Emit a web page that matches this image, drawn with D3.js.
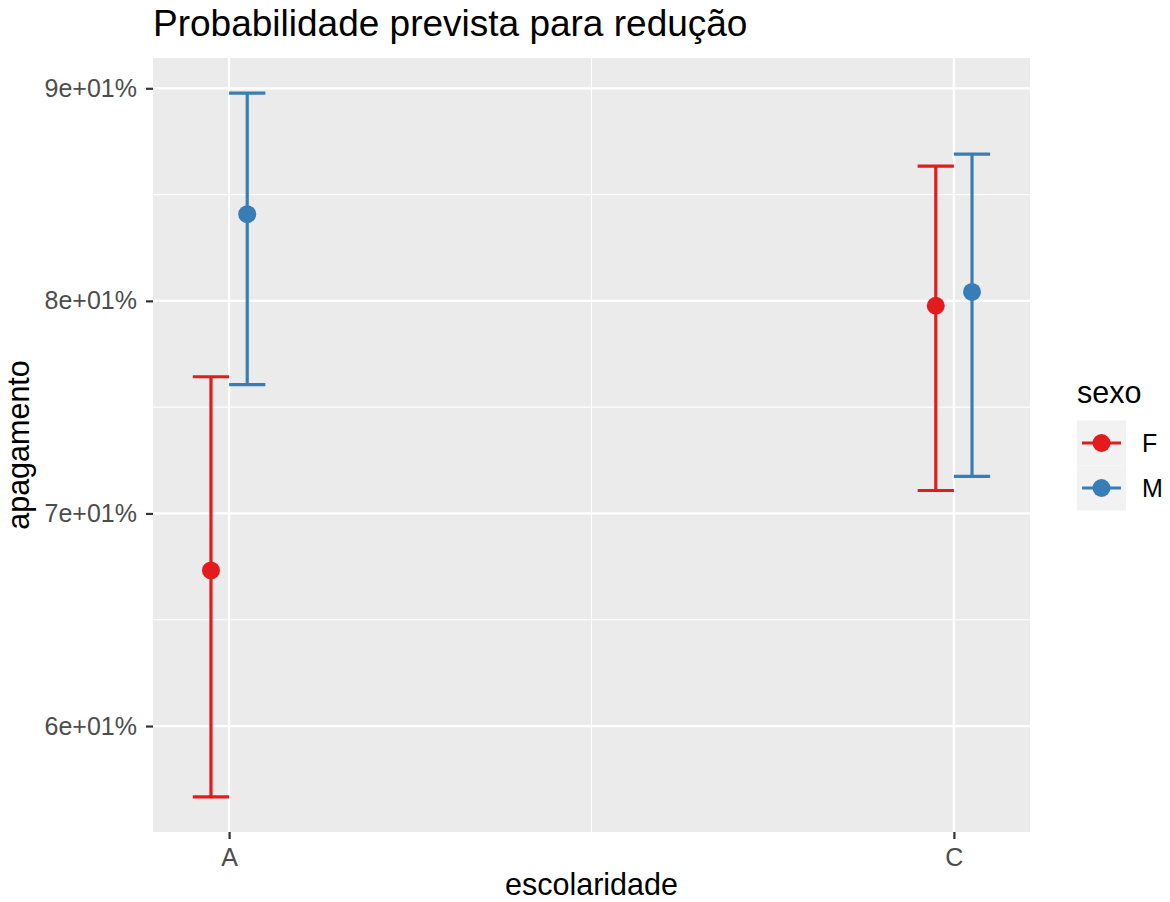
<!DOCTYPE html>
<html>
<head>
<meta charset="utf-8">
<script src="https://cdn.jsdelivr.net/npm/d3@7"></script>
<style>
body { margin: 0; background: #fff; }
text { font-family: "Liberation Sans", Arial, Helvetica, sans-serif; }
</style>
</head>
<body>
<div id="chart"></div>
<script>
// data
var categories = ["A", "C"];
var groups = ["F", "M"];
var groupColours = ["#E41A1C", "#377EB8"];
var fitF = [67.32, 79.77];
var lowF = [56.67, 71.08];
var highF = [76.43, 86.34];
var fitM = [84.08, 80.42];
var lowM = [76.06, 71.74];
var highM = [89.77, 86.90];
var yTicks = [60, 70, 80, 90];
var yTickLabels = ["6e+01%", "7e+01%", "8e+01%", "9e+01%"];
var yMinor = [65, 75, 85];

var svgWidth = 1170, svgHeight = 902;
var panel = {left: 153, right: 1030, top: 58, bottom: 832};
var dodge = 0.05, capWidth = 0.05;

var svg = d3.select("#chart").append("svg")
	.attr("width", svgWidth).attr("height", svgHeight);

// rows for each point
var rows = [];
categories.forEach(function (c, i) {
	rows.push({cat: i + 1, g: 0, fit: fitF[i], lo: lowF[i], hi: highF[i]});
	rows.push({cat: i + 1, g: 1, fit: fitM[i], lo: lowM[i], hi: highM[i]});
});

var allVals = lowF.concat(highF, lowM, highM);
var yMin = d3.min(allVals), yMax = d3.max(allVals);
var yPad = (yMax - yMin) * 0.05;
var y = d3.scaleLinear().domain([yMin - yPad, yMax + yPad]).range([panel.bottom, panel.top]);

var xLo = 1 - dodge / 2 - capWidth / 2, xHi = categories.length + dodge / 2 + capWidth / 2;
var xPad = (xHi - xLo) * 0.05;
var x = d3.scaleLinear().domain([xLo - xPad, xHi + xPad]).range([panel.left, panel.right]);

function xPos(d) { return x(d.cat + (d.g === 0 ? -dodge / 2 : dodge / 2)); }

// panel background
svg.append("rect")
	.attr("x", panel.left).attr("y", panel.top)
	.attr("width", panel.right - panel.left).attr("height", panel.bottom - panel.top)
	.attr("fill", "#EBEBEB");

// grid lines
svg.selectAll(".yminor").data(yMinor).enter().append("line")
	.attr("x1", panel.left).attr("x2", panel.right)
	.attr("y1", function (d) { return y(d); }).attr("y2", function (d) { return y(d); })
	.attr("stroke", "#fff").attr("stroke-width", 1.1);
svg.selectAll(".xminor").data([1.5]).enter().append("line")
	.attr("y1", panel.top).attr("y2", panel.bottom)
	.attr("x1", function (d) { return x(d); }).attr("x2", function (d) { return x(d); })
	.attr("stroke", "#fff").attr("stroke-width", 1.1);
svg.selectAll(".ymajor").data(yTicks).enter().append("line")
	.attr("x1", panel.left).attr("x2", panel.right)
	.attr("y1", function (d) { return y(d); }).attr("y2", function (d) { return y(d); })
	.attr("stroke", "#fff").attr("stroke-width", 2.2);
svg.selectAll(".xmajor").data(categories).enter().append("line")
	.attr("y1", panel.top).attr("y2", panel.bottom)
	.attr("x1", function (d, i) { return x(i + 1); }).attr("x2", function (d, i) { return x(i + 1); })
	.attr("stroke", "#fff").attr("stroke-width", 2.2);

// axes
var yAxis = d3.axisLeft(y).tickValues(yTicks)
	.tickFormat(function (d, i) { return yTickLabels[i]; })
	.tickSize(7).tickPadding(9);
var gy = svg.append("g").attr("transform", "translate(" + panel.left + ",0)").call(yAxis);
gy.select(".domain").remove();
gy.selectAll("line").attr("stroke", "#333").attr("stroke-width", 2.2);
gy.selectAll("text").attr("fill", "#4D4D4D").style("font-size", "25px")
	.style("font-family", "'Liberation Sans', Arial, sans-serif");

var xAxis = d3.axisBottom(x).tickValues(categories.map(function (c, i) { return i + 1; }))
	.tickFormat(function (d) { return categories[d - 1]; })
	.tickSize(7).tickPadding(9);
var gx = svg.append("g").attr("transform", "translate(0," + panel.bottom + ")").call(xAxis);
gx.select(".domain").remove();
gx.selectAll("line").attr("stroke", "#333").attr("stroke-width", 2.2);
gx.selectAll("text").attr("fill", "#4D4D4D").style("font-size", "25px")
	.style("font-family", "'Liberation Sans', Arial, sans-serif");

// error bars
var bars = svg.selectAll(".bar").data(rows).enter().append("g");
bars.append("line")
	.attr("x1", xPos).attr("x2", xPos)
	.attr("y1", function (d) { return y(d.lo); }).attr("y2", function (d) { return y(d.hi); })
	.attr("stroke", function (d) { return groupColours[d.g]; }).attr("stroke-width", 3.2);
["lo", "hi"].forEach(function (k) {
	bars.append("line")
		.attr("x1", function (d) { return xPos(d) - (x(capWidth) - x(0)) / 2; })
		.attr("x2", function (d) { return xPos(d) + (x(capWidth) - x(0)) / 2; })
		.attr("y1", function (d) { return y(d[k]); }).attr("y2", function (d) { return y(d[k]); })
		.attr("stroke", function (d) { return groupColours[d.g]; }).attr("stroke-width", 3.2);
});
bars.append("circle")
	.attr("cx", xPos).attr("cy", function (d) { return y(d.fit); })
	.attr("r", 9)
	.attr("fill", function (d) { return groupColours[d.g]; });

// titles
svg.append("text").attr("x", panel.left).attr("y", 36)
	.style("font-size", "37px").attr("fill", "#000")
	.text("Probabilidade prevista para redução");
svg.append("text").attr("x", (panel.left + panel.right) / 2).attr("y", 895)
	.attr("text-anchor", "middle").style("font-size", "30.5px")
	.text("escolaridade");
svg.append("text")
	.attr("transform", "translate(29," + (panel.top + panel.bottom) / 2 + ") rotate(-90)")
	.attr("text-anchor", "middle").style("font-size", "30.5px")
	.text("apagamento");

// legend
var lg = svg.append("g").attr("transform", "translate(1077,0)");
lg.append("text").attr("x", 0).attr("y", 403).style("font-size", "30.5px").text("sexo");
groups.forEach(function (g, i) {
	var cy = 443 + i * 45;
	lg.append("rect").attr("x", 0).attr("y", cy - 22.5).attr("width", 49).attr("height", 45)
		.attr("fill", "#F2F2F2");
	lg.append("line").attr("x1", 5).attr("x2", 44).attr("y1", cy).attr("y2", cy)
		.attr("stroke", groupColours[i]).attr("stroke-width", 3.2);
	lg.append("circle").attr("cx", 24.5).attr("cy", cy).attr("r", 9)
		.attr("fill", groupColours[i]);
	lg.append("text").attr("x", 65).attr("y", cy + 9).style("font-size", "25px")
		.text(g);
});
</script>
</body>
</html>
